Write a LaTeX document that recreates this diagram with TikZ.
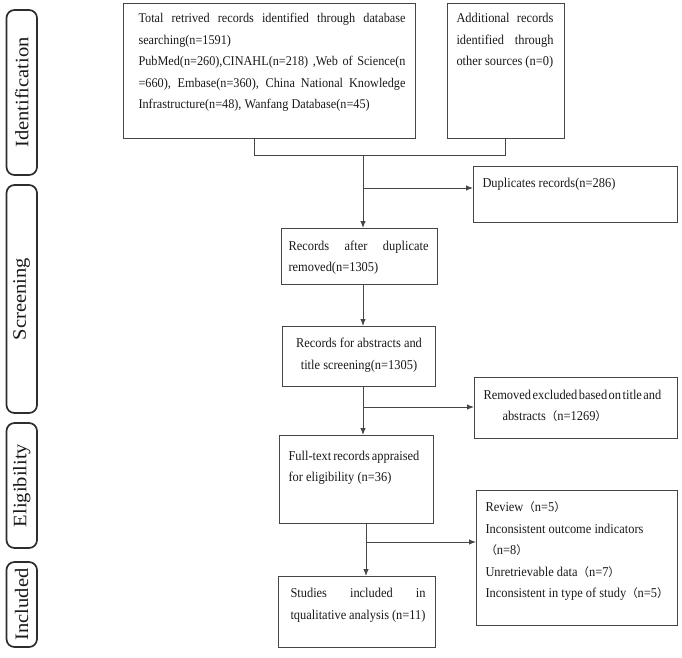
\documentclass[tikz,border=0pt]{standalone}
\usepackage{fontspec}
\setmainfont{Liberation Serif}[FakeStretch=0.92]
\newfontfamily\phasefont{Liberation Serif}[FakeStretch=1.08]
\newfontfamily\cjk{Noto Sans CJK SC}[Scale=0.85]
\usetikzlibrary{arrows.meta}
\definecolor{lc}{RGB}{70,70,70}
\definecolor{pc}{RGB}{45,45,45}
\definecolor{tc}{RGB}{25,25,25}
\newcommand\lp{{\cjk （}}
\newcommand\rp{{\cjk ）}}
\newcommand\fsz[2]{\fontsize{#1}{#2}\selectfont}
% #1 total width, #2 total height, #3 left pad, #4 text width, #5 first baseline, #6 content
\newcommand\boxtext[6]{\parbox[c][#2][t]{#1}{\hspace*{#3}\parbox[t]{#4}{\rule{0pt}{#5}#6}}}
\newcommand\jline[1]{\makebox[\linewidth][s]{#1}}
\begin{document}
\begin{tikzpicture}[x=1pt,y=-1pt,
  box/.style={draw=lc, line width=1pt, inner sep=0pt, anchor=north west, text=tc},
  phase/.style={draw=pc, line width=1.7pt, rounded corners=8pt, inner sep=0pt, text=tc},
  conn/.style={draw=lc, line width=1pt},
  arr/.style={conn, -{Latex[length=7pt,width=5.5pt]}}]
\useasboundingbox (0,0) rectangle (682,657);

% phase labels
\node[phase, minimum width=30.5pt, minimum height=165pt] (ph1) at (21.75,92.5) {\rotatebox{90}{\phasefont\fontsize{19pt}{20pt}\selectfont Identification}};
\node[phase, minimum width=30.5pt, minimum height=228pt] (ph2) at (21.75,299) {\rotatebox{90}{\phasefont\fontsize{19pt}{20pt}\selectfont Screening}};
\node[phase, minimum width=30.5pt, minimum height=125pt] (ph3) at (21.75,485.5) {\rotatebox{90}{\phasefont\fontsize{19pt}{20pt}\selectfont Eligibility}};
\node[phase, minimum width=30.5pt, minimum height=85pt] (ph4) at (21.75,604.5) {\rotatebox{90}{\phasefont\fontsize{19pt}{20pt}\selectfont Included}};

% main boxes
\node[box] (main) at (123,3) {\boxtext{292pt}{135pt}{15pt}{267pt}{19pt}{\fsz{13.3pt}{21.5pt}%
\jline{Total retrived records identified through database}\\
searching(n=1591)\\
\jline{PubMed(n=260),CINAHL(n=218) ,Web of Science(n}\\
\jline{=660), Embase(n=360), China National Knowledge}\\
Infrastructure(n=48), Wanfang Database(n=45)}};

\node[box] (add) at (447,3) {\boxtext{117pt}{135pt}{9pt}{97pt}{19pt}{\fsz{13.5pt}{21.5pt}%
\jline{Additional records}\\
\jline{identified through}\\
other sources (n=0)}};

\node[box] (dup) at (473,166) {\boxtext{204pt}{56pt}{9pt}{190pt}{21pt}{\fsz{13.5pt}{21.5pt}%
Duplicates records(n=286)}};

\node[box] (rad) at (281,228) {\boxtext{156pt}{56pt}{7pt}{140pt}{22pt}{\fsz{13.5pt}{21pt}%
\jline{Records after duplicate}\\
removed(n=1305)}};

\node[box] (rfa) at (282,326) {\boxtext{153pt}{60pt}{0pt}{153pt}{21pt}{\fsz{13.5pt}{22pt}\centering
Records for abstracts and\\
title screening(n=1305)\par}};

\node[box] (rem) at (474,377) {\boxtext{203pt}{61pt}{9pt}{190pt}{22pt}{\fsz{13.5pt}{21pt}%
{\spaceskip=1.5pt Removed excluded based on title and}\\
\hspace*{19pt}abstracts\lp n=1269\rp}};

\node[box] (ft) at (279,435) {\boxtext{154pt}{88pt}{9pt}{142pt}{25pt}{\fsz{13.5pt}{21pt}%
{\spaceskip=2pt Full-text records appraised}\\
for eligibility (n=36)}};

\node[box] (rev) at (476,490) {\boxtext{201pt}{135pt}{9pt}{190pt}{21pt}{\fsz{13.5pt}{21.5pt}%
Review\lp n=5\rp\\
Inconsistent outcome indicators\\
\lp n=8\rp\\
Unretrievable data\lp n=7\rp\\
Inconsistent in type of study\lp n=5\rp}};

\node[box] (st) at (278,576) {\boxtext{157pt}{71pt}{12pt}{135pt}{21pt}{\fsz{13.5pt}{22pt}%
\jline{Studies included in}\\
tqualitative analysis (n=11)}};

% connector coordinates
\coordinate (brL) at (254,155);
\coordinate (brR) at (505,155);
\coordinate (sp) at (363,155);
\coordinate (j1) at (363,188);
\coordinate (j2) at (363,407);
\coordinate (j3) at (366,542);

% connectors
\draw[conn] (main.south -| brL) -- (brL) -- (brR) -- (add.south -| brR);
\draw[arr] (sp) -- (rad.north -| sp);
\draw[arr] (j1) -- (dup.west |- j1);
\draw[arr] (rad.south -| sp) -- (rfa.north -| sp);
\draw[arr] (rfa.south -| sp) -- (ft.north -| sp);
\draw[arr] (j2) -- (rem.west |- j2);
\draw[arr] (ft.south -| j3) -- (st.north -| j3);
\draw[arr] (j3) -- (rev.west |- j3);
\end{tikzpicture}
\end{document}
